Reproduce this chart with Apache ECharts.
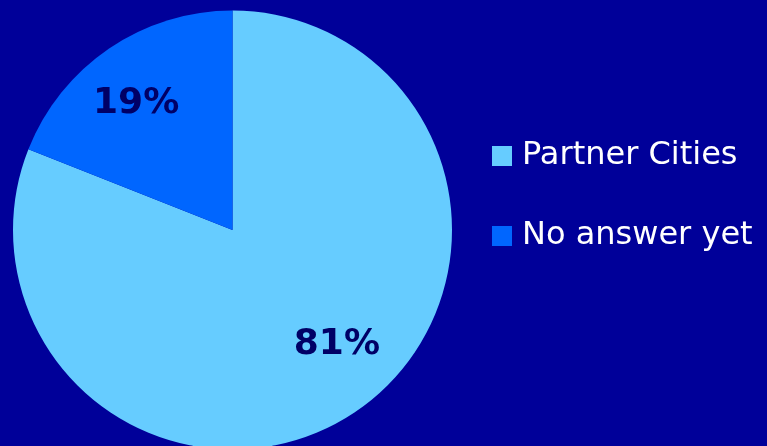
<!DOCTYPE html>
<html>
<head>
<meta charset="utf-8">
<script src="https://cdn.jsdelivr.net/npm/echarts@6/dist/echarts.min.js"></script>
<style>
  html, body { margin: 0; padding: 0; background: #000099; }
  #chart { width: 767px; height: 446px; }
</style>
</head>
<body>
<div id="chart"></div>
<script>
// Survey responses, in percent
const categories = ['Partner Cities', 'No answer yet'];
const shares = [81, 19];
const sliceColors = ['#66CCFF', '#0066FF'];
// Per-slice label nudges (px) away from the default inner position
const labelNudge = [[41, 21], [-33, -33]];

const chart = echarts.init(document.getElementById('chart'), null, { renderer: 'canvas' });

chart.setOption({
  backgroundColor: '#000099',
  animation: false,
  legend: {
    orient: 'vertical',
    left: 492,
    top: 140,
    padding: 0,
    itemWidth: 20,
    itemHeight: 20,
    itemGap: 48,
    icon: 'rect',
    selectedMode: false,
    textStyle: {
      color: '#FFFFFF',
      fontFamily: 'DejaVu Sans',
      fontSize: 32,
      lineHeight: 32,
      padding: [0, 0, 0, 5]
    },
    data: categories
  },
  series: [{
    type: 'pie',
    center: [232.5, 230],
    radius: 219.5,
    startAngle: 90,
    clockwise: true,
    silent: true,
    itemStyle: { borderWidth: 0 },
    label: {
      show: true,
      position: 'inside',
      formatter: '{c}%',
      color: '#000066',
      fontFamily: 'DejaVu Sans',
      fontWeight: 'bold',
      fontSize: 36
    },
    labelLine: { show: false },
    labelLayout: function (params) {
      const n = labelNudge[params.dataIndex];
      return { dx: n[0], dy: n[1] };
    },
    data: categories.map((name, i) => ({
      name: name,
      value: shares[i],
      itemStyle: { color: sliceColors[i] }
    }))
  }]
});
</script>
</body>
</html>
